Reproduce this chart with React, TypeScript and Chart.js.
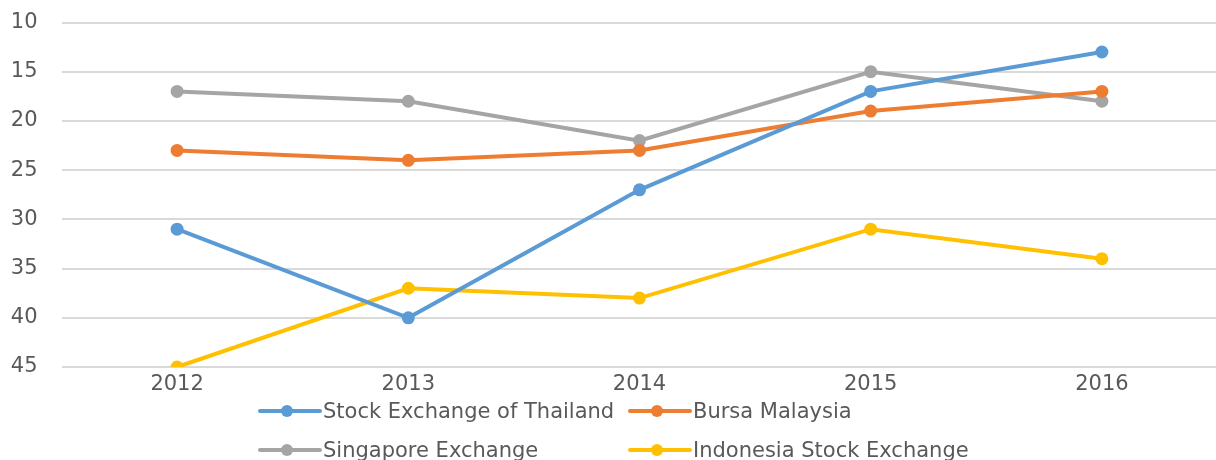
import React, { useEffect, useRef } from "react";
import { Chart, registerables } from "chart.js";

Chart.register(...registerables);

const categories = ["2012", "2013", "2014", "2015", "2016"];
const thailand = [31, 40, 27, 17, 13];
const bursa = [23, 24, 23, 19, 17];
const singapore = [17, 18, 22, 15, 18];
const indonesia = [45, 37, 38, 31, 34];
const yMin = 10;
const yMax = 45;
const yStep = 5;

const seriesNames = [
  "Stock Exchange of Thailand",
  "Bursa Malaysia",
  "Singapore Exchange",
  "Indonesia Stock Exchange",
];
const seriesColors = ["#5B9BD5", "#ED7D31", "#A5A5A5", "#FFC000"];
const seriesData = [thailand, bursa, singapore, indonesia];

const FONT = "'DejaVu Sans', sans-serif";
const TEXT = "#595959";

function LegendItem({ name, color, left, top }: { name: string; color: string; left: number; top: number }) {
  return (
    <div style={{ position: "absolute", left, top, height: 30, display: "flex", alignItems: "center" }}>
      <div style={{ position: "relative", width: 64, height: 30, flex: "none" }}>
        <div style={{ position: "absolute", left: 0, top: 13, width: 64, height: 4, background: color, borderRadius: 2 }} />
        <div style={{ position: "absolute", left: 23, top: 9, width: 12, height: 12, borderRadius: 6, background: color }} />
      </div>
      <span style={{ fontFamily: FONT, fontSize: 21, color: TEXT, whiteSpace: "nowrap", marginLeft: 1 }}>{name}</span>
    </div>
  );
}

export default function App() {
  const ref = useRef<HTMLCanvasElement | null>(null);

  useEffect(() => {
    document.body.style.margin = "0";
    const canvas = ref.current;
    if (!canvas) return;
    const chart = new Chart(canvas, {
      type: "line",
      data: {
        labels: categories,
        datasets: seriesData.map((d, i) => ({
          label: seriesNames[i],
          data: d,
          borderColor: seriesColors[i],
          backgroundColor: seriesColors[i],
          borderWidth: 4,
          pointRadius: 6.5,
          pointHoverRadius: 6.5,
          pointBorderWidth: 0,
          tension: 0,
          fill: false,
        })),
      },
      options: {
        animation: false,
        responsive: false,
        devicePixelRatio: 1,
        layout: { padding: { left: 0, right: 0, top: 22.5, bottom: 53 } },
        plugins: {
          legend: { display: false },
          tooltip: { enabled: false },
        },
        scales: {
          x: {
            type: "category",
            offset: true,
            grid: { display: false, drawTicks: false },
            border: { display: false },
            ticks: { color: TEXT, font: { family: FONT, size: 21 }, padding: 5 },
            afterFit: (s: any) => {
              s.height = 40;
              s.paddingLeft = 0;
              s.paddingRight = 0;
            },
          },
          y: {
            reverse: true,
            min: yMin,
            max: yMax,
            grid: { color: "#D9D9D9", lineWidth: 2, drawTicks: false },
            border: { display: false },
            ticks: {
              stepSize: yStep,
              color: TEXT,
              font: { family: FONT, size: 21 },
              padding: 24,
            },
            afterFit: (s: any) => {
              s.width = 61.5;
              s.paddingTop = 0;
              s.paddingBottom = 0;
            },
          },
        },
      },
    });
    return () => chart.destroy();
  }, []);

  return (
    <div style={{ position: "relative", width: 1216, height: 460, overflow: "hidden", background: "#fff" }}>
      <canvas ref={ref} width={1224} height={460} style={{ display: "block", width: 1224, height: 460 }} />
      <LegendItem name={seriesNames[0]} color={seriesColors[0]} left={258} top={396} />
      <LegendItem name={seriesNames[1]} color={seriesColors[1]} left={628} top={396} />
      <LegendItem name={seriesNames[2]} color={seriesColors[2]} left={258} top={435} />
      <LegendItem name={seriesNames[3]} color={seriesColors[3]} left={628} top={435} />
    </div>
  );
}
